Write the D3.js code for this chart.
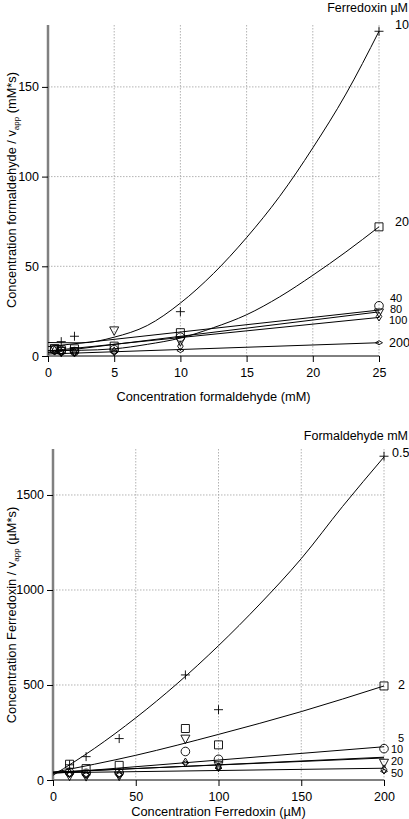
<!DOCTYPE html>
<html><head><meta charset="utf-8">
<script src="https://cdn.jsdelivr.net/npm/d3@7"></script>
<style>body{margin:0;background:#fff}svg{display:block}text{font-family:"Liberation Sans",Arial,sans-serif;fill:#000}</style>
</head><body>
<script>
// ---------- Top chart data ----------
const topTicksX = [0,5,10,15,20,25];
const topTicksY = [0,50,100,150];
const topSeriesNames = ["10","20","40","80","100","200"];
const topX = [0.5,1,2,5,10,25];
const topPlus    = [null,8,11,null,24.7,181];
const topSquare  = [4,3.5,4,5.5,13,72];
const topCircle  = [3.5,3,2.5,3.5,10.5,28];
const topTri     = [4,2.5,2.5,14,8,24];
const topDiamond = [3,2,2,2.5,5.5,22];
const topSmall   = [2,1.5,1.5,2,3,7.4];
const topFitX = [0,2.5,5,7.5,10,12.5,15,17.5,20,22.5,25];
const topFit10 = [7.5,7.3,10.5,17,29.5,46,66,89,116,146,181];
const topFit20 = [3,3.2,4,6.5,10,15.8,23,33,45,58,72];
const topLineX = [0,25];
const topFit40 = [5.2,25.6];
const topFit80 = [1.9,24.6];
const topFit100 = [2.8,21.5];
const topFit200 = [1.1,7.4];

// ---------- Bottom chart data ----------
const botTicksX = [0,50,100,150,200];
const botTicksY = [0,500,1000,1500];
const botSeriesNames = ["0.5","2","5","10","20","50"];
const botX = [10,20,40,80,100,200];
const botPlus    = [80,123,218,553,370,1704];
const botSquare  = [83,60,77,271,185,495];
const botCircle  = [40,35,38,150,109,165];
const botTri     = [20,18,20,215,75,88];
const botDiamond = [35,30,30,92,67,55];
const botSmall   = [30,28,28,90,62,46];
const botFitX = [0,25,50,75,100,125,150,175,200];
const botFit05 = [25,166,327,507,707,926,1165,1440,1700];
const botFit2X = [0,50,100,150,200];
const botFit2 = [40,130,240,360,495];
const botLineX = [0,200];
const botFit5 = [35,175];
const botFit10 = [40,120];
const botFit20 = [42,116];
const botFit50 = [38,62];

const W = 409, H = 819;
const svg = d3.select("body").append("svg").attr("width",W).attr("height",H);

function marker(g, type, x, y){
  if(type==="circle"){
    g.append("circle").attr("cx",x).attr("cy",y).attr("r",4.3).attr("fill","none").attr("stroke","#000").attr("stroke-width",0.9); return;
  }
  let d;
  if(type==="plus") d=`M${x-4.5},${y}H${x+4.5}M${x},${y-4.5}V${y+4.5}`;
  else if(type==="square") d=`M${x-4},${y-4}h8v8h-8z`;
  else if(type==="tri") d=`M${x-4.5},${y-4}H${x+4.5}L${x},${y+4.5}Z`;
  else if(type==="diamond") d=`M${x},${y-4.5}L${x+2.8},${y}L${x},${y+4.5}L${x-2.8},${y}Z`;
  else if(type==="small") d=`M${x-3.5},${y}L${x},${y-2}L${x+3.5},${y}L${x},${y+2}Z`;
  g.append("path").attr("d",d).attr("fill","none").attr("stroke","#000").attr("stroke-width",0.9);
}

function panel(o){
  const x = d3.scaleLinear().domain(o.xdom).range([o.left,o.right]);
  const y = d3.scaleLinear().domain(o.ydom).range([o.bottom,o.top]);
  const g = svg.append("g");
  // grid
  g.append("g").selectAll("line").data(o.tx.filter(v=>v>0)).join("line")
    .attr("x1",d=>x(d)).attr("x2",d=>x(d)).attr("y1",o.top).attr("y2",o.bottom)
    .attr("stroke","#a0a0a0").attr("stroke-width",0.8).attr("stroke-dasharray","1.5,1.5");
  g.append("g").selectAll("line").data(o.ty.filter(v=>v>0)).join("line")
    .attr("x1",o.left).attr("x2",o.right).attr("y1",d=>y(d)).attr("y2",d=>y(d))
    .attr("stroke","#a0a0a0").attr("stroke-width",0.8).attr("stroke-dasharray","1.5,1.5");
  // axes
  const ax = g.append("g").attr("transform",`translate(0,${o.bottom})`)
    .call(d3.axisBottom(x).tickValues(o.tx).tickSize(6).tickPadding(6).tickFormat(d3.format("d")));
  ax.select(".domain").attr("stroke",o.xAxisColor).attr("stroke-width",o.xAxisWidth).attr("d",`M${o.left},0H${o.right}`);
  ax.selectAll("text").attr("font-size",12.5).attr("font-family","Liberation Sans, Arial, sans-serif");
  const ay = g.append("g").attr("transform",`translate(${o.left},0)`)
    .call(d3.axisLeft(y).tickValues(o.ty).tickSize(6).tickPadding(3).tickFormat(d3.format("d")));
  ay.select(".domain").attr("stroke","#808080").attr("stroke-width",2.5).attr("d",`M0,${o.top}V${o.bottom}`);
  ay.selectAll("text").attr("font-size",12.5).attr("font-family","Liberation Sans, Arial, sans-serif");
  // fits
  const line = d3.line().x(d=>x(d[0])).y(d=>y(d[1])).curve(d3.curveMonotoneX);
  o.fits.forEach(f=>{
    g.append("path").datum(f[0].map((v,i)=>[v,f[1][i]])).attr("d",line)
      .attr("fill","none").attr("stroke","#000").attr("stroke-width",1);
  });
  // markers
  const types=["plus","square","circle","tri","diamond","small"];
  o.series.forEach((ser,si)=>{
    ser.forEach((v,i)=>{ if(v!=null) marker(g,types[si],x(o.px[i]),y(v)); });
  });
  // labels
  svg.append("text").attr("x",408).attr("y",o.titleY).attr("text-anchor","end").attr("font-size",12.5).text(o.title);
  o.labels.forEach((l,i)=>{
    svg.append("text").attr("x",o.labelXs[i]).attr("y",o.labelYs[i]).attr("dy","0.35em")
      .attr("font-size",o.labelSizes[i]).text(l);
  });
  // axis titles
  svg.append("text").attr("x",(o.left+o.right)/2).attr("y",o.xTitleY).attr("text-anchor","middle").attr("font-size",12.8).text(o.xTitle);
  const yt = svg.append("text").attr("transform",`translate(${o.yTitleX},${o.yTitleCY}) rotate(-90)`).attr("text-anchor","middle").attr("font-size",12.8);
  yt.append("tspan").text(o.yTitlePre+"v");
  yt.append("tspan").attr("font-size",8).attr("dy",3).text("app");
  yt.append("tspan").attr("dy",-3).text(" "+o.yTitlePost);
}

panel({
  xdom:[0,25], ydom:[0,184.5], left:48, right:379, top:25, bottom:356,
  tx:topTicksX, ty:topTicksY, xAxisColor:"#000", xAxisWidth:1,
  fits:[[topFitX,topFit10],[topFitX,topFit20],[topLineX,topFit40],[topLineX,topFit80],[topLineX,topFit100],[topLineX,topFit200]],
  series:[topPlus,topSquare,topCircle,topTri,topDiamond,topSmall], px:topX,
  title:"Ferredoxin µM", titleY:12, labels:topSeriesNames,
  labelXs:[395,395,390,390,389,389], labelYs:[25,222,298,309,320,343],
  labelSizes:[12.5,12.5,11,11,11,12.5],
  xTitle:"Concentration formaldehyde (mM)", xTitleY:401,
  yTitlePre:"Concentration formaldehyde  / ", yTitlePost:"(mM*s)", yTitleX:16, yTitleCY:190
});

panel({
  xdom:[0,200], ydom:[0,1742], left:53, right:384, top:449, bottom:780,
  tx:botTicksX, ty:botTicksY, xAxisColor:"#808080", xAxisWidth:2,
  fits:[[botFitX,botFit05],[botFit2X,botFit2],[botLineX,botFit5],[botLineX,botFit10],[botLineX,botFit20],[botLineX,botFit50]],
  series:[botPlus,botSquare,botCircle,botTri,botDiamond,botSmall], px:botX,
  title:"Formaldehyde mM", titleY:440, labels:botSeriesNames,
  labelXs:[392,398,398,391,391,391], labelYs:[453,685,738,749,761,773],
  labelSizes:[12.5,12.5,11,11,11,11],
  xTitle:"Concentration Ferredoxin (µM)", xTitleY:816,
  yTitlePre:"Concentration Ferredoxin / ", yTitlePost:"(µM*s)", yTitleX:16, yTitleCY:615
});
</script>
</body></html>
